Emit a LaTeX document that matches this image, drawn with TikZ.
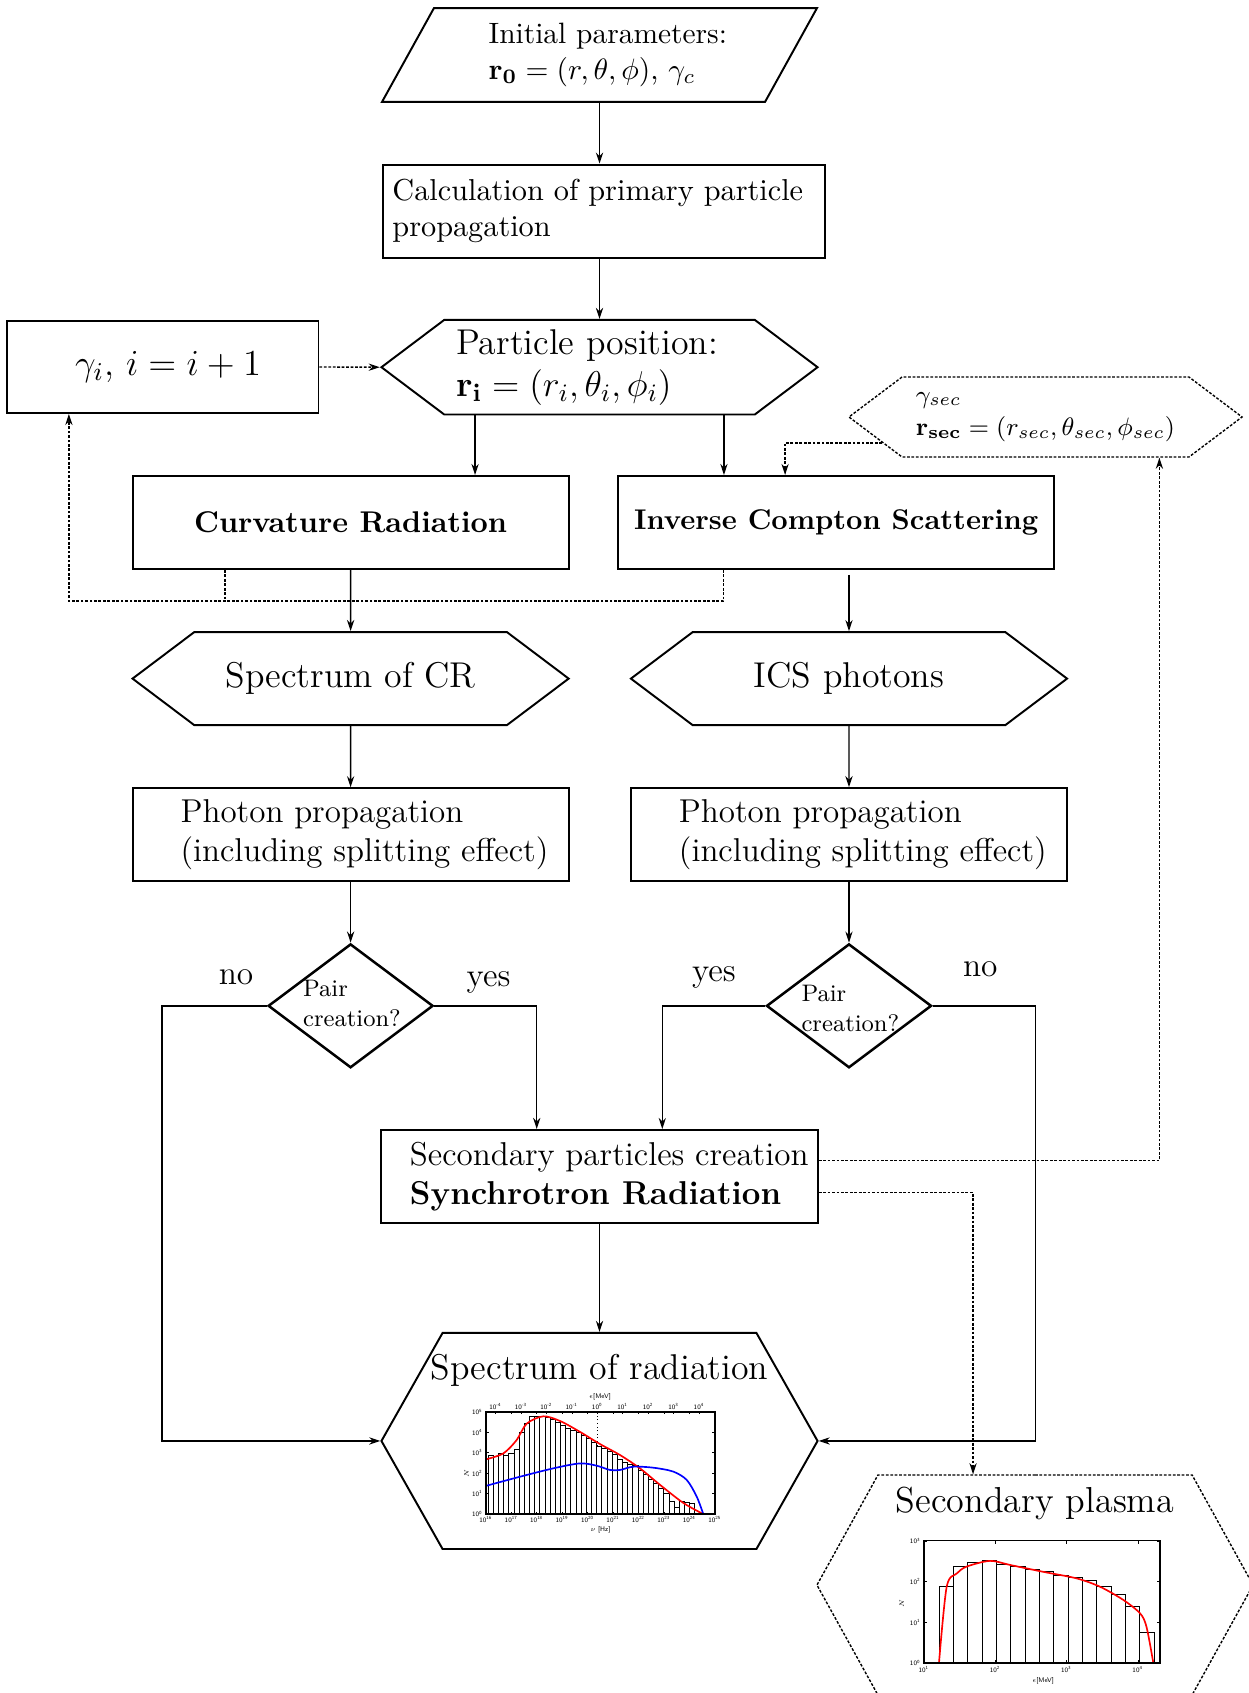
\RequirePackage{fix-cm}
\documentclass[tikz,border=0pt]{standalone}
\usetikzlibrary{shapes.geometric, shapes.symbols, positioning, arrows.meta}

\begin{document}
\begin{tikzpicture}[x=0.36pt, y=0.36pt, node distance=56.2pt, >={Stealth[length=4pt, width=2.6pt]}]
    \tikzstyle{box}=[draw, rectangle, line width=0.7pt, minimum width=157pt, minimum height=33.5pt, align=left];
    \tikzstyle{hexa}=[draw, signal, signal to=west and east, signal pointer angle=74, line width=0.7pt, minimum width=157pt, minimum height=33.5pt, align=left, font=\fontsize{12.9}{15.2}\selectfont];
    \tikzstyle{bighexa}=[hexa, signal pointer angle=121, minimum height=78pt];
    \tikzstyle{decide}=[draw, diamond, line width=0.9pt, minimum width=59.4pt, minimum height=44.6pt, inner sep=0pt];
    \tikzstyle{pairtext}=[font=\fontsize{8.6}{10.8}\selectfont, align=left, inner sep=0pt];
    \tikzstyle{answer}=[font=\fontsize{12}{14}\selectfont];
    \tikzstyle{flow}=[->, line width=0.5pt];
    \tikzstyle{feedback}=[line width=0.5pt, dash pattern=on 1pt off 0.6pt];
    \tikzstyle{bin}=[draw, fill=white, line width=0.35pt];
    \tikzstyle{tick}=[font=\fontsize{2.4}{3}\selectfont\sffamily, inner sep=0.4pt];

    \useasboundingbox (0,0) rectangle (1248,-1693);

    % main column
    \node[draw, trapezium, trapezium left angle=57.5, trapezium right angle=122.5, trapezium stretches body, line width=0.7pt, minimum width=156.6pt, minimum height=33.8pt, align=left, font=\fontsize{10.6}{12.7}\selectfont] (init) at (599.5,-55) {\hspace*{6pt}Initial parameters:\\\hspace*{6pt}$\mathbf{r_0}=(r,\theta,\phi)$, $\gamma_c$};
    \node[box, below of=init, xshift=1.7pt, text width=152.5pt, font=\fontsize{10.9}{13}\selectfont] (calc) {Calculation of primary particle\\propagation};
    \node[hexa, below of=calc, xshift=-1.7pt, minimum height=33.1pt] (pos) {Particle position:\hspace*{9pt}\\$\mathbf{r_i}=(r_i,\theta_i,\phi_i)$};
    \node[box, minimum width=112.3pt, minimum height=33.1pt, font=\fontsize{13.2}{16}\selectfont] (gambox) at (162.5,-367) {\hspace*{4pt}$\gamma_i$, $i=i+1$};
    \node[hexa, dash pattern=on 1pt off 0.6pt, line width=0.5pt, minimum width=141.5pt, minimum height=28.8pt, font=\fontsize{9.1}{11.6}\selectfont] (gamsec) at (1045.5,-417) {$\gamma_{sec}$\\$\mathbf{r_{sec}}=(r_{sec},\theta_{sec},\phi_{sec})$};

    % curvature branch
    \node[box, font=\fontsize{10.8}{13}\selectfont\bfseries] (curv) at (350.6,-522.5) {Curvature Radiation};
    \node[hexa, below of=curv] (speccr) {Spectrum of CR};
    \node[box, below of=speccr, font=\fontsize{11.9}{14}\selectfont] (photL) {\hspace*{10pt}Photon propagation\\\hspace*{10pt}(including splitting effect)};
    \node[decide, node distance=61.6pt, below of=photL] (pairL) {};
    \node[pairtext] (pairLtxt) at ([xshift=0.5pt, yshift=1pt]pairL) {Pair\\creation?};

    % inverse Compton branch
    \node[box, font=\fontsize{10.27}{12}\selectfont\bfseries] (ics) at (836.2,-522.5) {Inverse Compton Scattering};
    \node[hexa, below of=ics, xshift=4.6pt] (icsph) {ICS photons};
    \node[box, below of=icsph, font=\fontsize{11.9}{14}\selectfont] (photR) {\hspace*{10pt}Photon propagation\\\hspace*{10pt}(including splitting effect)};
    \node[decide, node distance=61.6pt, below of=photR] (pairR) {};
    \node[pairtext] (pairRtxt) at ([xshift=0.5pt, yshift=-1pt]pairR) {Pair\\creation?};

    \node[answer] (noL) at ([xshift=-11.1pt, yshift=10.2pt]pairL.west) {no};
    \node[answer] (yesL) at ([xshift=19.5pt, yshift=8.3pt]pairL.east) {yes};
    \node[answer] (yesR) at ([xshift=-18.5pt, yshift=10.1pt]pairR.west) {yes};
    \node[answer] (noR) at ([xshift=17.1pt, yshift=13pt]pairR.east) {no};

    % outputs
    \node[box, font=\fontsize{11.9}{14}\selectfont] (sec) at (599.5,-1176.5) {\hspace*{7pt}Secondary particles creation\\\hspace*{7pt}\textbf{Synchrotron Radiation}};
    \node[bighexa, node distance=95.2pt, below of=sec, minimum height=77.8pt] (specrad) {};
    \node[anchor=base, font=\fontsize{12.9}{15}\selectfont] (specradtitle) at ([yshift=-17.3pt]specrad.north) {Spectrum of radiation};
    \node[bighexa, dash pattern=on 1pt off 0.6pt, line width=0.5pt, minimum height=79.2pt, signal pointer angle=122] (plasma) at (1035,-1585) {};
    \node[anchor=base, font=\fontsize{13}{15}\selectfont] (plasmatitle) at ([yshift=-13.7pt]plasma.north) {Secondary plasma};

    % spectrum of radiation inset
    \begin{scope}[shift={(486,-1514)}, x=9.158pt, y=7.344pt]
        \draw[densely dotted, line width=0.3pt] (4.38,0) -- (4.38,5);
        \foreach \h [count=\k from 0] in {2.85,2.8,2.95,2.85,2.95,3.15,4.0,4.45,4.8,4.78,4.76,4.72,4.65,4.5,4.35,4.2,4.1,3.98,3.86,3.7,3.52,3.33,3.2,3.05,2.9,2.65,2.52,2.45,2.4,2.15,1.92,1.68,1.5,1.27,1.02,0.62,0.3,0.6,0.55,0.5}
            \draw[bin] ({0.09+0.203*\k},0) rectangle ++(0.203,\h);
        \draw[red, line width=0.6pt] plot[smooth] coordinates {(0,2.68) (0.68,2.97) (1.2,3.62) (1.6,4.43) (2.25,4.79) (2.91,4.56) (3.69,4.03) (4.48,3.43) (5.27,2.89) (6.05,2.24) (6.84,1.43) (7.76,0.54) (8.54,0)};
        \draw[blue, line width=0.6pt] plot[smooth] coordinates {(0,1.38) (1.34,1.83) (2.65,2.24) (3.69,2.48) (4.35,2.37) (4.87,2.16) (5.27,2.16) (5.79,2.32) (6.58,2.27) (7.36,2.08) (7.89,1.67) (8.28,0.86) (8.54,0)};
        \draw[line width=0.4pt] (0,0) rectangle (9,5);
        \foreach \e [count=\i] in {16,...,25} {
            \draw[line width=0.3pt] ({\e-16},0) -- ++(0,0.12) ({\e-16},5) -- ++(0,-0.12);
            \node[tick, anchor=north] (nu\i) at ({\e-16},-0.05) {10\textsuperscript{\e}};
        }
        \foreach \p [count=\i] in {-4,...,4} {
            \draw[line width=0.3pt] ({4.38+\p},5) -- ++(0,-0.12);
            \node[tick, anchor=south] (ev\i) at ({4.38+\p},5.05) {10\textsuperscript{\p}};
        }
        \foreach \n in {0,...,5} {
            \draw[line width=0.3pt] (0,\n) -- ++(0.1,0) (9,\n) -- ++(-0.1,0);
            \node[tick, anchor=east] (ny\n) at (-0.05,\n) {10\textsuperscript{\n}};
        }
        \node[tick] (nulabel) at (4.5,-0.78) {$\nu$ [Hz]};
        \node[tick] (evlabel) at (4.48,5.75) {$\epsilon$[MeV]};
        \node[tick, rotate=90] (nlabel) at (-0.76,2) {$N$};
    \end{scope}

    % secondary plasma inset
    \begin{scope}[shift={(924,-1663)}, x=25.67pt, y=14.65pt]
        \foreach \h [count=\k from 0] in {1.89,2.36,2.47,2.51,2.42,2.36,2.3,2.25,2.16,2.09,2.03,1.89,1.68,1.38,0.76}
            \draw[bin] ({0.21+0.201*\k},0) rectangle ++(0.201,\h);
        \draw[red, line width=0.6pt] plot[smooth] coordinates {(0.21,0) (0.318,1.875) (0.459,2.2) (0.599,2.37) (0.926,2.51) (1.206,2.41) (1.674,2.24) (2.14,2.08) (2.468,1.875) (2.795,1.55) (3.03,1.22) (3.12,0.89) (3.216,0)};
        \draw[line width=0.4pt] (0,0) rectangle (3.31,3);
        \foreach \e [count=\i] in {1,...,4} {
            \draw[line width=0.3pt] ({\e-1},0) -- ++(0,0.08) ({\e-1},3) -- ++(0,-0.08);
            \node[tick, anchor=north] (ex\i) at ({\e-1},-0.05) {10\textsuperscript{\e}};
        }
        \foreach \n in {0,...,3} {
            \draw[line width=0.3pt] (0,\n) -- ++(0.04,0) (3.31,\n) -- ++(-0.04,0);
            \node[tick, anchor=east] (my\n) at (-0.02,\n) {10\textsuperscript{\n}};
        }
        \node[tick] (exlabel) at (1.67,-0.43) {$\epsilon$[MeV]};
        \node[tick, rotate=90] (mlabel) at (-0.31,1.47) {$N$};
    \end{scope}

    % solid flow
    \path[flow]
    (curv) edge (speccr)
    (speccr) edge (photL)
    (photL) edge (pairL)
    (icsph) edge (photR)
    (photR) edge (pairR)
    (sec) edge (specrad);
    \draw[flow] (init.south) -- (init.south |- calc.north);
    \draw[flow] (pos.north |- calc.south) -- (pos.north);
    \draw[flow] ([xshift=-44.8pt]pos.south) -- ([xshift=-44.8pt]pos.south |- curv.north);
    \draw[flow] ([xshift=44.8pt]pos.south) -- ([xshift=44.8pt]pos.south |- ics.north);
    \draw[flow] (icsph.north |- ics.south) ++(0,-1.8pt) -- (icsph.north);
    \draw[flow] (pairL.west) -- ++(-37.8pt,0) |- (specrad.180);
    \draw[flow] (pairL.east) -| ([xshift=-22.6pt]sec.north);
    \draw[flow] (pairR.west) -| ([xshift=22.6pt]sec.north);
    \draw[flow] (pairR.east) -- ++(37pt,0) |- (specrad.0);

    % dotted feedback
    \draw[feedback, ->] (gambox.east) -- (pos.180);
    \draw[feedback] ([xshift=-45.2pt]curv.south) -- ++(0,-11.2pt);
    \draw[feedback, ->] ([xshift=-40.6pt]ics.south) -- ++(0,-11.2pt) -| ([xshift=-33.7pt]gambox.south);
    \draw[feedback, ->] (gamsec.189) -| ([xshift=-18.4pt]ics.north);
    \draw[feedback, ->] ([yshift=5.7pt]sec.east) -| ([xshift=41pt]gamsec.south);
    \draw[feedback, ->] ([yshift=-5.8pt]sec.east) -| ([xshift=-22.3pt]plasma.north);
\end{tikzpicture}
\end{document}
